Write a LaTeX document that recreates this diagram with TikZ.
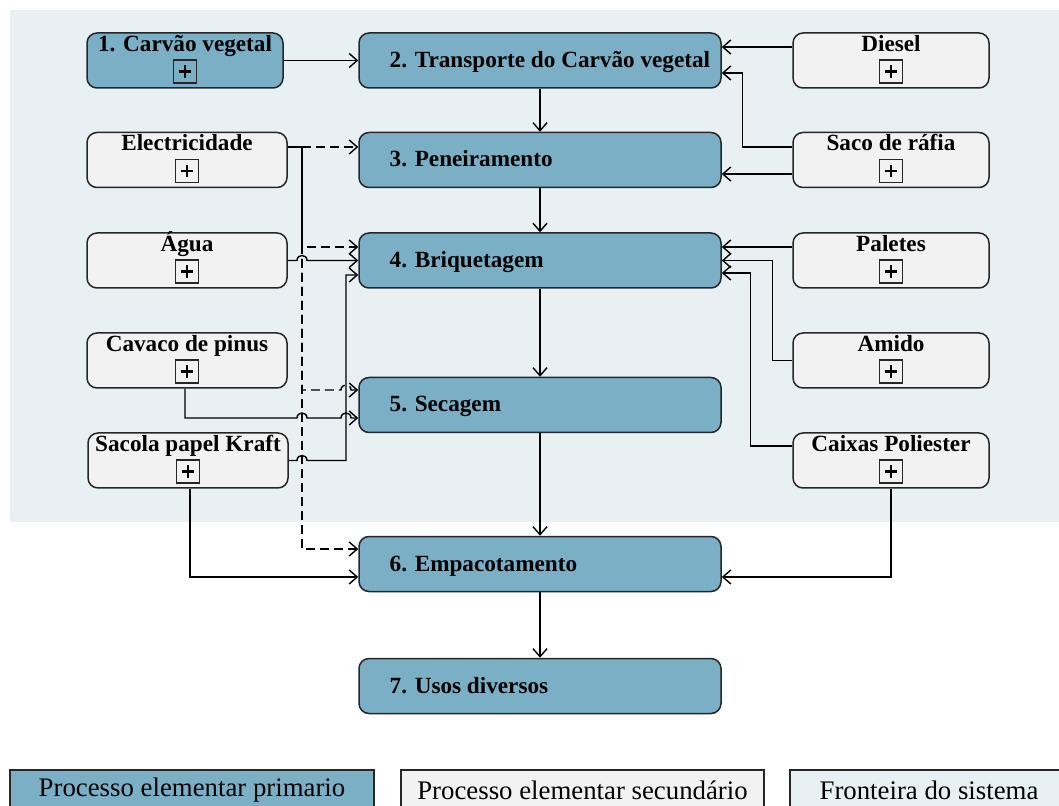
\documentclass[tikz,border=0pt]{standalone}
\usepackage{fontspec}
\setmainfont{Liberation Serif}
\usetikzlibrary{arrows.meta,calc}
\definecolor{prim}{HTML}{7AAFC5}
\definecolor{sec}{HTML}{F2F2F2}
\definecolor{bound}{HTML}{E8F0F4}
\definecolor{edge}{HTML}{262626}
\begin{document}
\begin{tikzpicture}[x=0.5pt,y=-0.5pt,
 primbox/.style={draw=edge, line width=0.75pt, fill=prim, rounded corners=5pt, minimum width=181pt, minimum height=27.5pt, inner sep=0pt},
 secbox/.style={draw=edge, line width=0.75pt, fill=sec, rounded corners=5pt, minimum width=100pt, minimum height=27.5pt, inner sep=0pt},
 ptext/.style={font=\fontsize{11.6}{14}\selectfont\bfseries, inner sep=0pt, anchor=base west},
 stext/.style={font=\fontsize{11.6}{14}\selectfont\bfseries, inner sep=0pt, anchor=base},
 plusbox/.style={draw=edge, line width=0.6pt, minimum size=11.5pt, inner sep=0pt,
   path picture={\draw[line width=1.4pt,black] ([xshift=-3.2pt]path picture bounding box.center) -- ([xshift=3.2pt]path picture bounding box.center);
                 \draw[line width=1.4pt,black] ([yshift=-3.2pt]path picture bounding box.center) -- ([yshift=3.2pt]path picture bounding box.center);}},
 arr/.style={draw=black, line width=0.7pt, -{Straight Barb[length=4pt,width=7pt]}},
 dsh/.style={arr, dash pattern=on 4.5pt off 2.5pt},
 legbox/.style={draw=edge, line width=0.75pt, minimum height=20pt, inner sep=0pt, font=\fontsize{13.4}{16}\selectfont}
]
\useasboundingbox (0,0) rectangle (1059,806);
\fill[bound] (10,10) rectangle (1070,522);

% primary processes
\node[primbox] (p2) at (540,60.5) {};
\node[primbox] (p3) at (540,160) {};
\node[primbox] (p4) at (540,260.5) {};
\node[primbox] (p5) at (540,405) {};
\node[primbox] (p6) at (540,564) {};
\node[primbox] (p7) at (540,686) {};
\node[ptext] (p2t) at ([xshift=15.5pt,yshift=-3.5pt]p2.west) {2. Transporte do Carvão vegetal};
\node[ptext] (p3t) at ([xshift=15.5pt,yshift=-3.5pt]p3.west) {3. Peneiramento};
\node[ptext] (p4t) at ([xshift=15.5pt,yshift=-3.5pt]p4.west) {4. Briquetagem};
\node[ptext] (p5t) at ([xshift=15.5pt,yshift=-3.5pt]p5.west) {5. Secagem};
\node[ptext] (p6t) at ([xshift=15.5pt,yshift=-3.5pt]p6.west) {6. Empacotamento};
\node[ptext] (p7t) at ([xshift=15.5pt,yshift=-3.5pt]p7.west) {7. Usos diversos};

% left boxes
\node[secbox, fill=prim, minimum width=98pt] (c1) at (185,60.5) {};
\node[secbox] (el) at (187,160) {};
\node[secbox] (agua) at (187,260.5) {};
\node[secbox] (cav) at (187,360.5) {};
\node[secbox] (sac) at (188,460.5) {};
% right boxes
\node[secbox, minimum width=98pt] (die) at (891,60.5) {};
\node[secbox, minimum width=98pt] (saco) at (891,160) {};
\node[secbox, minimum width=98pt] (pal) at (891,260.5) {};
\node[secbox, minimum width=98pt] (ami) at (891,360.5) {};
\node[secbox, minimum width=98pt] (cai) at (891,460.5) {};

\foreach \n/\t in {c1/{1. Carvão vegetal}, el/Electricidade, agua/Água, cav/{Cavaco de pinus}, sac/{Sacola papel Kraft}, die/Diesel, saco/{Saco de ráfia}, pal/Paletes, ami/Amido, cai/{Caixas Poliester}}{
  \node[stext] (\n t) at ([yshift=-9.5pt]\n.north) {\t};
  \node[plusbox] (\n p) at ([yshift=-5.5pt]\n.center) {};
}

\coordinate (T) at (302,0);
\coordinate (S) at (346,0);

% main chain
\draw[arr] (c1.east) -- (p2.west);
\draw[arr] (p2.south) -- (p3.north);
\draw[arr] (p3.south) -- (p4.north);
\draw[arr] (p4.south) -- (p5.north);
\draw[arr] (p5.south) -- (p6.north);
\draw[arr] (p6.south) -- (p7.north);

% electricity (dashed)
\draw[dsh] ([yshift=6.5pt]el.east) coordinate (e0) -- (e0 -| p3.west);
\draw[dsh, dash phase=3.5pt] (e0) -- (e0 -| T) |- ([yshift=6.75pt]p4.west);
\draw[dsh] (e0) -- (e0 -| T) |- ($(S |- p5.west)+(-5,-15)$) .. controls +(0,-6.7) and +(0,-6.7) .. ++(10,0) -- ([yshift=7.5pt]p5.west);
\draw[dsh] (e0) -- (e0 -| T) |- ([yshift=7.5pt]p6.west);

% water
\draw[arr] (agua.east) -- ($(T |- agua.east)+(-5,0)$) .. controls +(0,-6.7) and +(0,-6.7) .. ++(10,0) -- (p4.west);
% sacola
\draw[arr] (sac.east) -- ($(T |- sac.east)+(-5,0)$) .. controls +(0,-6.7) and +(0,-6.7) .. ++(10,0) -- (S |- sac.east) |- ([yshift=-7.25pt]p4.west);
\draw[arr] ([xshift=1pt]sac.south) |- ([yshift=-6.5pt]p6.west);
% cavaco
\draw[arr] ([xshift=-1pt]cav.south) |- ($(T |- p5.west)+(-5,13)$) .. controls +(0,-6.7) and +(0,-6.7) .. ++(10,0) -- ($(S |- p5.west)+(-5,13)$) .. controls +(0,-6.7) and +(0,-6.7) .. ++(10,0) -- ([yshift=-6.5pt]p5.west);

% right side
\draw[arr] ([yshift=6.75pt]die.west) coordinate (d0) -- (d0 -| p2.east);
\draw[arr] ([yshift=6.5pt]saco.west) -- ++(-50,0) |- ([yshift=-6.25pt]p2.east);
\draw[arr] ([yshift=-7pt]saco.west) coordinate (s1) -- (s1 -| p3.east);
\draw[arr] ([yshift=6.75pt]pal.west) coordinate (pa0) -- (pa0 -| p4.east);
\draw[arr] (ami.west) -- ++(-20,0) |- (p4.east);
\draw[arr] ([yshift=7.25pt]cai.west) -- ++(-42,0) |- ([yshift=-6.25pt]p4.east);
\draw[arr] (cai.south) |- ([yshift=-6.5pt]p6.east);

% legend
\node[legbox, fill=prim, minimum width=182pt] (l1) at (192,790) {Processo elementar primario};
\node[legbox, fill=sec, minimum width=181.5pt] (l2) at (582.5,790) {Processo elementar secundário};
\node[legbox, fill=bound, minimum width=139pt] (l3) at (929,790) {Fronteira do sistema};
\end{tikzpicture}
\end{document}
